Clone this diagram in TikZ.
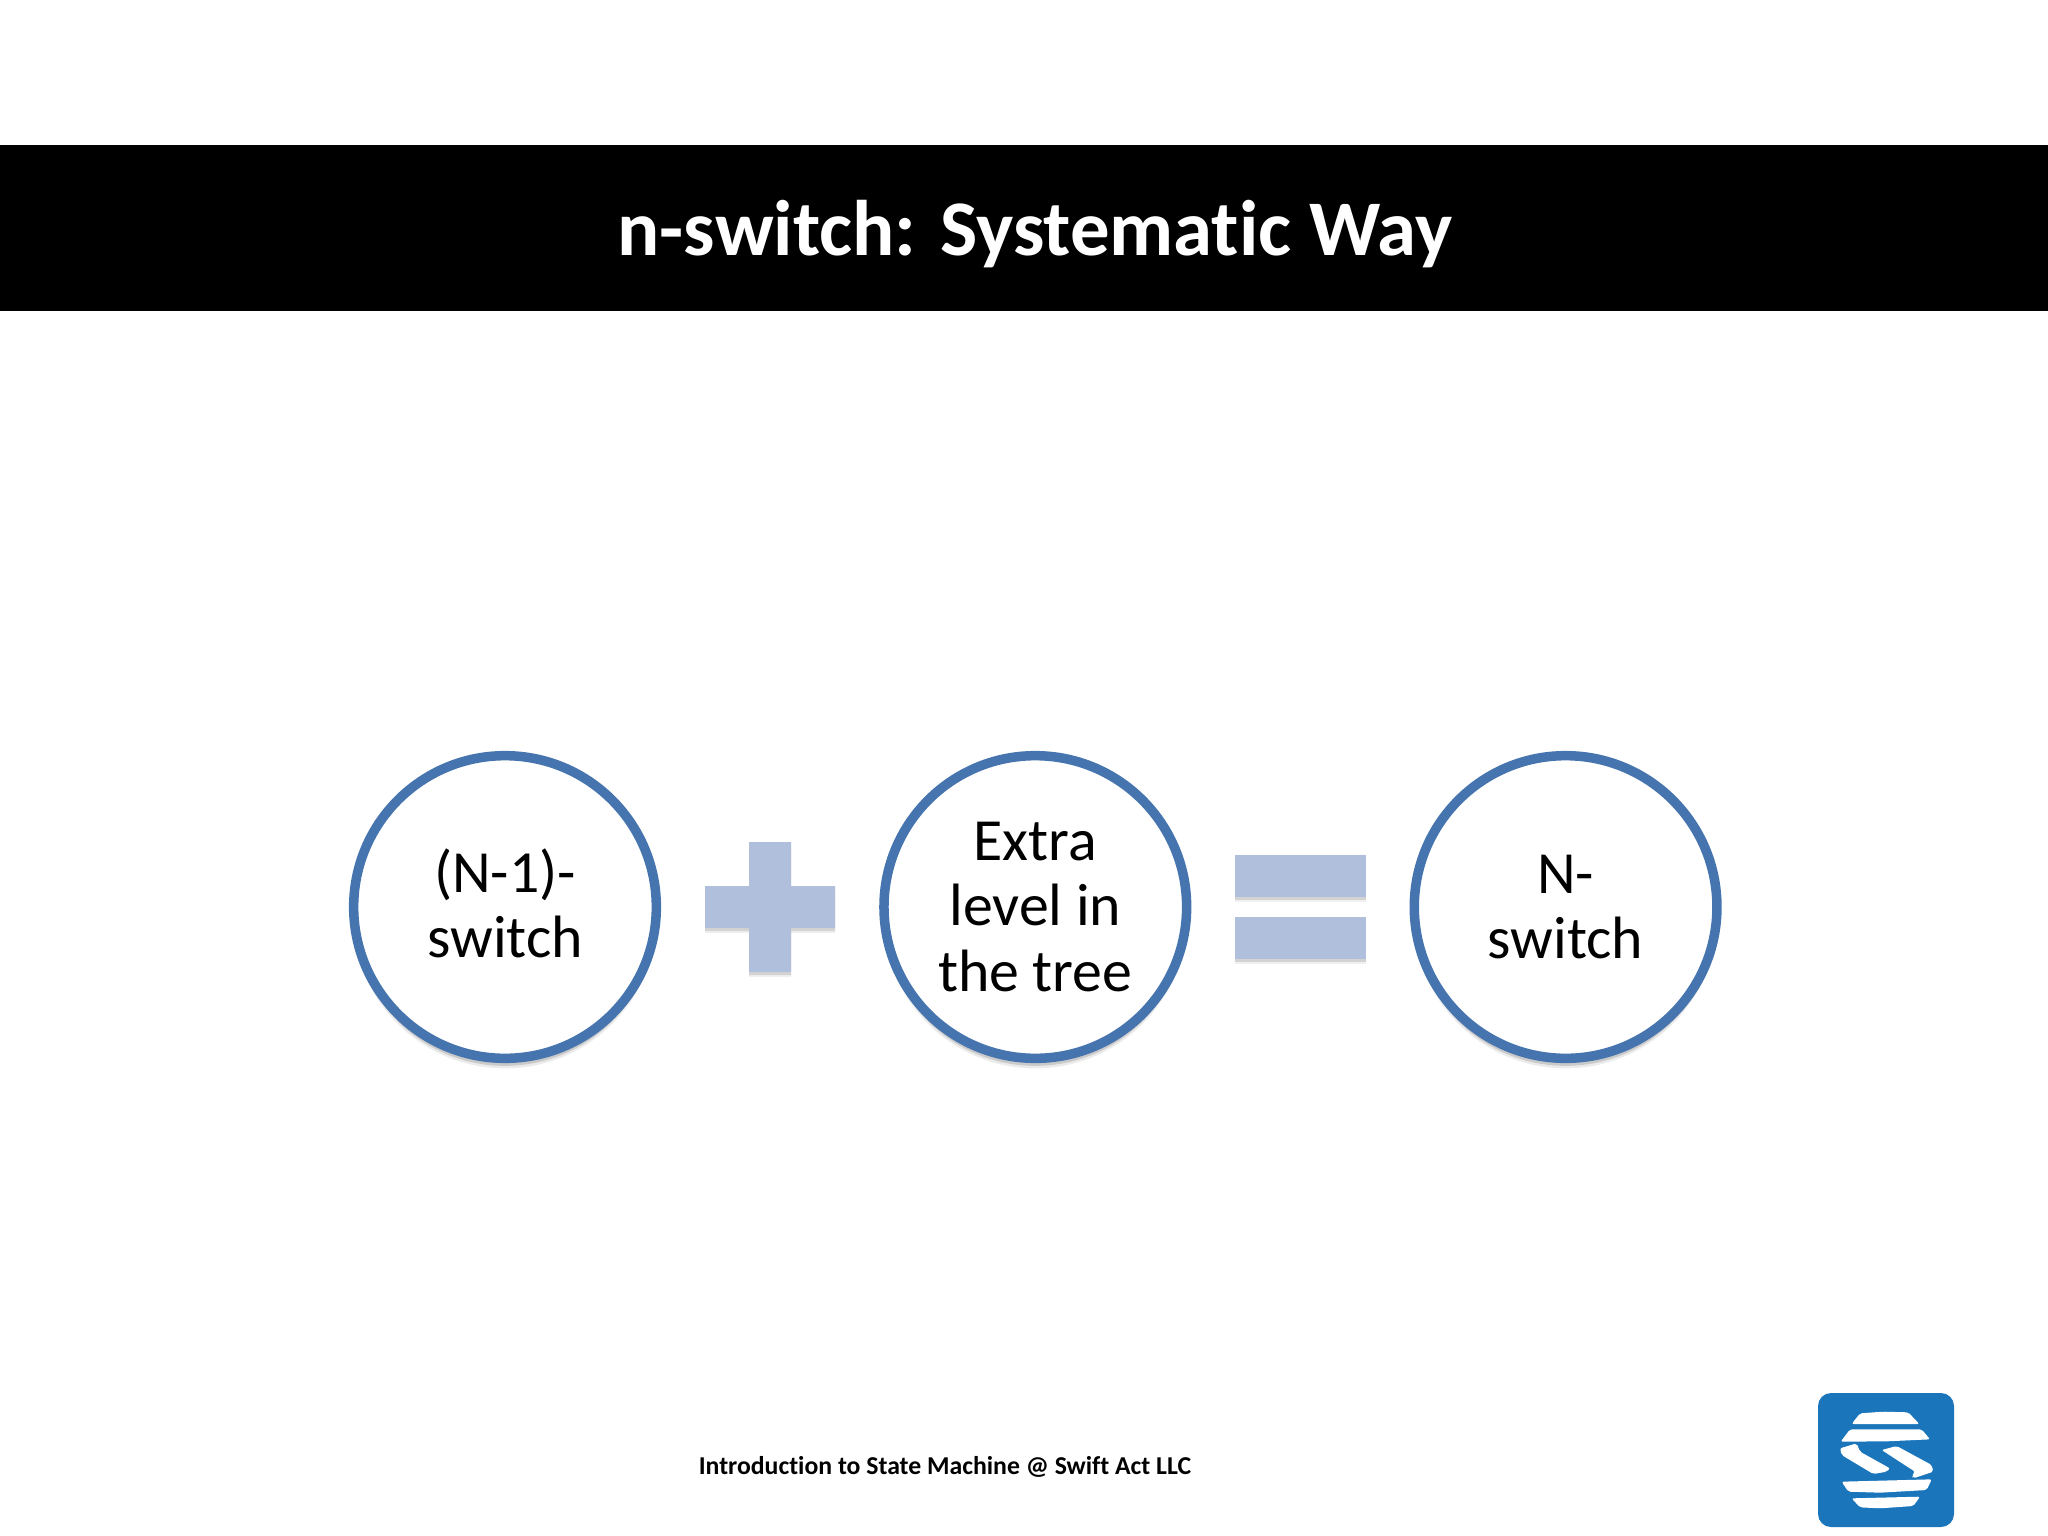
\documentclass[tikz,border=0pt]{standalone}
\usepackage{fontspec}
\setmainfont[Ligatures=CommonOff]{Carlito}
\usetikzlibrary{shadows}
\definecolor{ringblue}{HTML}{4674AE}
\definecolor{signblue}{HTML}{B0BFDC}
\definecolor{logoblue}{HTML}{1A75BB}
\tikzset{
	softshadow/.style={drop shadow={shadow xshift=0cm,shadow yshift=-.05cm,opacity=.06,fill=black},
		drop shadow={shadow xshift=0cm,shadow yshift=-.03cm,opacity=.12,fill=black}},
	ringshadow/.style={drop shadow={shadow xshift=0cm,shadow yshift=-.1cm,opacity=.08,fill=black},
		drop shadow={shadow xshift=0cm,shadow yshift=-.075cm,opacity=.14,fill=black}},
	termcircle/.style={circle,draw=ringblue,line width=.095cm,fill=white,minimum size=3.025cm,inner sep=0pt,align=center,
		ringshadow,font=\fontsize{17}{18.6}\selectfont},
	signcentre/.style={inner sep=0pt,minimum size=0pt},
	equalbar/.style={rectangle,fill=signblue,minimum width=1.3cm,minimum height=.42cm,inner sep=0pt,softshadow},
	logopiece/.style={fill=white,rounded corners=.02cm},
}
\begin{document}
\begin{tikzpicture}[x=.01cm,y=-.01cm,node distance=2.65cm]
		\useasboundingbox (0,0) rectangle (2048,1536);
		\fill[black] (0,145) rectangle (2048,311);
		\node (title) [text=white,font=\fontsize{22.4}{26}\selectfont\bfseries] at (1035,234) {n-switch: Systematic Way};
		\node (nminus) [termcircle] at (505,907) {\raisebox{0pt}[.6em]{(N-1)-}\\switch};
		\node (plus) [signcentre,right of=nminus] {};
		\node (extra) [termcircle,right of=plus] {Extra\\level in\\the tree};
		\node (equal) [signcentre,right of=extra] {};
		\node (nswitch) [termcircle,right of=equal] {N-\\switch};
		\fill[signblue,softshadow] (plus) ++(-21,-65) -- ++(42,0) -- ++(0,44) -- ++(44,0) -- ++(0,42) -- ++(-44,0)
			-- ++(0,44) -- ++(-42,0) -- ++(0,-44) -- ++(-44,0) -- ++(0,-42) -- ++(44,0) -- cycle;
		\node (equaltop) [equalbar] at ([yshift=.31cm]equal) {};
		\node (equalbot) [equalbar] at ([yshift=-.31cm]equal) {};
		\node (footer) [font=\fontsize{7.32}{9}\selectfont\bfseries] at (945,1467) {Introduction to State Machine @ Swift Act LLC};
		% logo
		\fill[logoblue,rounded corners=.13cm] (1818,1393) rectangle (1954,1527);
		\begin{scope}[shift={(1780,1370)},scale=1/3]
			\fill[logopiece] (215,162) -- (240,130) -- (310,125) -- (385,127) -- (418,162) -- cycle;
			\fill[logopiece] (182,215) -- (210,178) -- (425,178) -- (450,208) -- (320,214) -- cycle;
			\fill[logopiece] (180,235) -- (230,220) -- (240,245) -- (330,295) -- (320,305) -- (280,312) -- (185,255) -- cycle;
			\fill[logopiece] (305,240) -- (350,228) -- (455,285) -- (460,305) -- (400,325) -- (395,318) -- (405,305) -- cycle;
			\fill[logopiece] (185,335) -- (455,328) -- (440,360) -- (300,368) -- (205,365) -- cycle;
			\fill[logopiece] (215,385) -- (420,380) -- (400,408) -- (300,415) -- (240,412) -- cycle;
		\end{scope}
	\end{tikzpicture}
\end{document}
